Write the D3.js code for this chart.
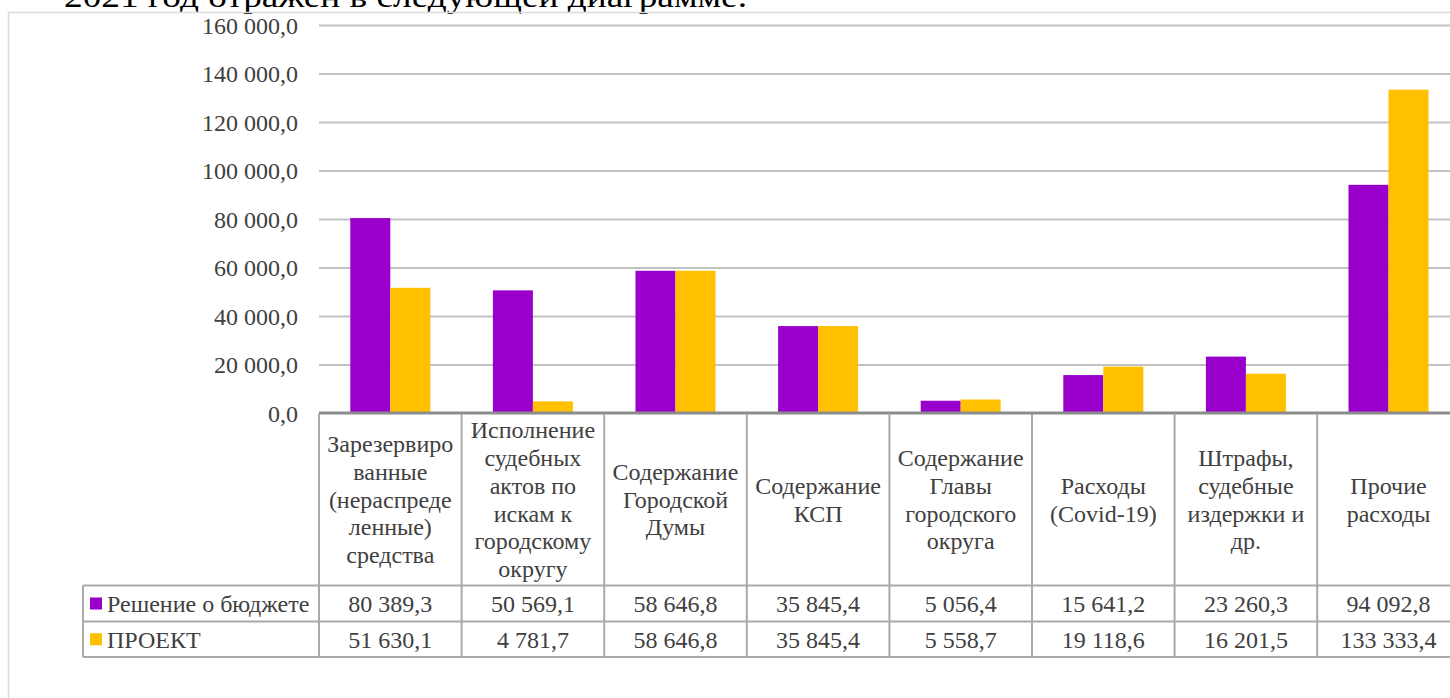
<!DOCTYPE html>
<html>
<head>
<meta charset="utf-8">
<script src="https://cdn.jsdelivr.net/npm/d3@7"></script>
<style>
html,body{margin:0;padding:0;background:#fff;overflow:hidden;}
svg{display:block;}
svg text{font-family:'Liberation Serif','Times New Roman',serif;}
</style>
</head>
<body>
<svg id="chart" width="1450" height="698"></svg>
<script>
// ---- data ----
const categories = [
  "Зарезервиро|ванные|(нераспреде|ленные)|средства",
  "Исполнение|судебных|актов по|искам к|городскому|округу",
  "Содержание|Городской|Думы",
  "Содержание|КСП",
  "Содержание|Главы|городского|округа",
  "Расходы|(Covid-19)",
  "Штрафы,|судебные|издержки и|др.",
  "Прочие|расходы"
];
const seriesNames = ["Решение о бюджете", "ПРОЕКТ"];
const budgetValues = [80389.3, 50569.1, 58646.8, 35845.4, 5056.4, 15641.2, 23260.3, 94092.8];
const projectValues = [51630.1, 4781.7, 58646.8, 35845.4, 5558.7, 19118.6, 16201.5, 133333.4];
const yTicks = [0, 20000, 40000, 60000, 80000, 100000, 120000, 140000, 160000];
const introText = "2021 год отражен в следующей диаграмме.";

const seriesColors = ["#9900cc", "#ffc000"];
const series = [budgetValues, projectValues];

// ---- layout ----
const svg = d3.select("#chart");
const font = "'Liberation Serif','Times New Roman',serif";
const textColor = "#404040";
const fs = 24;
const plotLeft = 319, colW = 142.6;
const plotRight = plotLeft + colW * categories.length;
const y0 = 413, yTop = 25;
const row1Top = 585.5, row2Top = 621.5, tableBottom = 657;
const legendLeft = 83;

const ru = d3.formatLocale({decimal: ",", thousands: "\u00a0", grouping: [3], currency: ["", ""]});
const fmt = ru.format(",.1f");

const x = d3.scaleBand().domain(d3.range(categories.length)).range([plotLeft, plotRight]).paddingInner(0).paddingOuter(0);
const xs = d3.scaleBand().domain([0, 1]).range([31.3, 111.3]).padding(0);
const y = d3.scaleLinear().domain([0, 160000]).range([y0, yTop]);

// intro text (cut off at top, as in the source page)
svg.append("text")
  .attr("x", 64).attr("y", 6.5)
  .attr("font-family", font).attr("font-size", 31).attr("fill", "#000")
  .attr("textLength", 683).attr("lengthAdjust", "spacingAndGlyphs")
  .text(introText);

// frame
svg.append("rect")
  .attr("x", 8.5).attr("y", 12.5).attr("width", 1460).attr("height", 720)
  .attr("fill", "none").attr("stroke", "#d9d9d9").attr("stroke-width", 1.5);

// gridlines
const grid = svg.append("g").attr("transform", `translate(${plotLeft},0)`)
  .call(d3.axisLeft(y).tickValues(yTicks.filter(d => d > 0)).tickSize(-(plotRight - plotLeft)).tickFormat(""));
grid.select(".domain").remove();
grid.selectAll(".tick line").attr("stroke", "#c2c2c2").attr("stroke-width", 2);

// y labels
const yAxis = svg.append("g").attr("transform", `translate(${plotLeft},0)`)
  .call(d3.axisLeft(y).tickValues(yTicks).tickSize(0).tickPadding(21).tickFormat(d => fmt(d)));
yAxis.attr("font-family", null);
yAxis.select(".domain").remove();
yAxis.selectAll(".tick text")
  .attr("font-family", font).attr("font-size", fs).attr("fill", textColor).attr("dy", "0.35em");

// bars
series.forEach((vals, si) => {
  svg.append("g").selectAll("rect").data(vals).join("rect")
    .attr("x", (d, i) => x(i) + xs(si))
    .attr("width", xs.bandwidth())
    .attr("y", d => y(d))
    .attr("height", d => y(0) - y(d))
    .attr("fill", seriesColors[si]);
});

// baseline axis
svg.append("line")
  .attr("x1", plotLeft).attr("x2", plotRight).attr("y1", y0).attr("y2", y0)
  .attr("stroke", "#8c8c8c").attr("stroke-width", 3);

// data table lines
const tl = svg.append("g").attr("stroke", "#a9a9a9").attr("stroke-width", 2);
d3.range(categories.length + 1).forEach(i => {
  const xx = plotLeft + i * colW;
  tl.append("line").attr("x1", xx).attr("x2", xx).attr("y1", y0 + 1).attr("y2", tableBottom);
});
tl.append("line").attr("x1", legendLeft).attr("x2", legendLeft).attr("y1", row1Top).attr("y2", tableBottom);
[row1Top, row2Top, tableBottom].forEach(yy => {
  tl.append("line").attr("x1", legendLeft).attr("x2", plotRight).attr("y1", yy).attr("y2", yy);
});

// category labels
const lineH = 27.8;
const headerMid = (y0 + row1Top) / 2;
categories.forEach((c, i) => {
  const lines = c.split("|");
  const t = svg.append("text")
    .attr("font-family", font).attr("font-size", fs).attr("fill", textColor)
    .attr("text-anchor", "middle");
  lines.forEach((ln, j) => {
    t.append("tspan")
      .attr("x", x(i) + x.bandwidth() / 2)
      .attr("y", headerMid + (j - (lines.length - 1) / 2) * lineH)
      .attr("dy", "0.35em")
      .text(ln);
  });
});

// data rows
const rowMids = [(row1Top + row2Top) / 2, (row2Top + tableBottom) / 2];
series.forEach((vals, si) => {
  svg.append("g").selectAll("text").data(vals).join("text")
    .attr("x", (d, i) => x(i) + x.bandwidth() / 2)
    .attr("y", rowMids[si]).attr("dy", "0.35em")
    .attr("text-anchor", "middle")
    .attr("font-family", font).attr("font-size", fs).attr("fill", textColor)
    .text(d => fmt(d));
  svg.append("rect")
    .attr("x", 90).attr("y", rowMids[si] - 6).attr("width", 12).attr("height", 12)
    .attr("fill", seriesColors[si]);
  svg.append("text")
    .attr("x", 107).attr("y", rowMids[si]).attr("dy", "0.35em")
    .attr("font-family", font).attr("font-size", fs).attr("fill", textColor)
    .text(seriesNames[si]);
});
</script>
</body>
</html>
